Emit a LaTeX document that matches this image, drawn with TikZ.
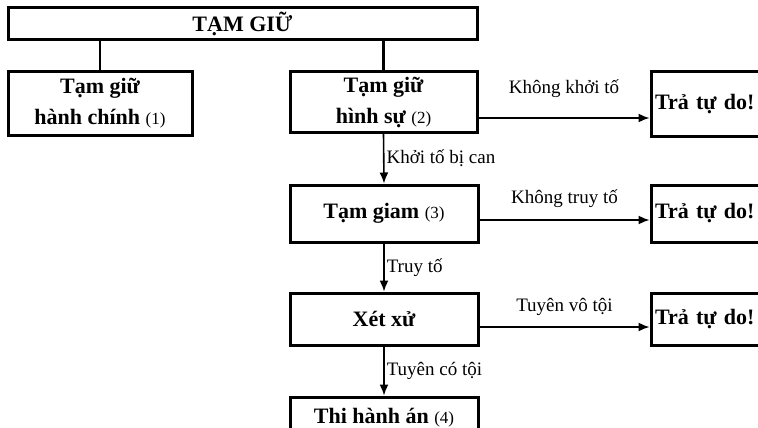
\documentclass[tikz,border=0pt]{standalone}
\usepackage{fontspec}
\setmainfont{Liberation Serif}
\usetikzlibrary{arrows.meta}
\newcommand{\boxfont}{\fontsize{22}{31}\selectfont\bfseries}
\newcommand{\numfont}{\fontsize{17}{20}\selectfont\mdseries}
\newcommand{\edgefont}{\fontsize{19}{22}\selectfont}
\tikzset{
    stage/.style={draw,line width=3pt,inner sep=0pt,align=center,font=\boxfont},
    release/.style={draw,line width=3pt,inner sep=0pt,inner xsep=4pt,align=left,
        text width=131pt,minimum width=139pt,font=\fontsize{22}{24}\selectfont\bfseries},
    flow/.style={line width=1.6pt,-{Latex[length=11pt,width=9pt]}},
    link/.style={line width=2.5pt},
    edgelbl/.style={font=\edgefont,inner sep=2pt}
}
\begin{document}
\begin{tikzpicture}[x=1pt,y=-1pt]
        \clip (0,0) rectangle (758,428);
        %% main column
        \node[stage,minimum width=469pt,minimum height=32pt] (top) at (242.5,24) {TẠM GIỮ};
        \node[stage,minimum width=184pt,minimum height=63pt] (hanhchinh) at (100,103.5) {Tạm giữ\\hành chính {\numfont(1)}};
        \node[stage,minimum width=187pt,minimum height=60pt] (hinhsu) at (383.5,102) {Tạm giữ\\hình sự {\numfont(2)}};
        \node[stage,minimum width=188pt,minimum height=57pt] (tamgiam) at (384,213.5) {Tạm giam {\numfont(3)}};
        \node[stage,minimum width=188pt,minimum height=52pt] (xetxu) at (384,319) {Xét xử};
        \node[stage,minimum width=188pt,minimum height=38pt,text depth=0pt] (thihanh) at (384,416) {Thi hành án {\numfont(4)}};
        %% release boxes
        \node[release,minimum height=64pt] (tra1) at (720.5,104) {Trả tự do!};
        \node[release,minimum height=57pt] (tra2) at (720.5,213.5) {Trả tự do!};
        \node[release,minimum height=52pt] (tra3) at (720.5,319) {Trả tự do!};
        %% links from the top box
        \draw[link] (top.south -| hanhchinh.north) -- (hanhchinh.north);
        \draw[link] (top.south -| hinhsu.north) -- (hinhsu.north);
        %% downward flow
        \draw[flow] (hinhsu.south) -- (tamgiam.north) node[midway,right,edgelbl] {Khởi tố bị can};
        \draw[flow] (tamgiam.south) -- (xetxu.north) node[midway,right,edgelbl] {Truy tố};
        \draw[flow] (xetxu.south) -- (thihanh.north) node[midway,right,edgelbl] {Tuyên có tội};
        %% release arrows
        \draw[flow] ([yshift=-16pt]hinhsu.east) -- ([yshift=-16pt]hinhsu.east -| tra1.west) node[midway,yshift=29pt,edgelbl] {Không khởi tố};
        \draw[flow] ([yshift=-6.5pt]tamgiam.east) -- ([yshift=-6.5pt]tamgiam.east -| tra2.west) node[midway,yshift=21pt,edgelbl] {Không truy tố};
        \draw[flow] ([yshift=-8pt]xetxu.east) -- ([yshift=-8pt]xetxu.east -| tra3.west) node[midway,yshift=20pt,edgelbl] {Tuyên vô tội};
    \end{tikzpicture}
\end{document}
